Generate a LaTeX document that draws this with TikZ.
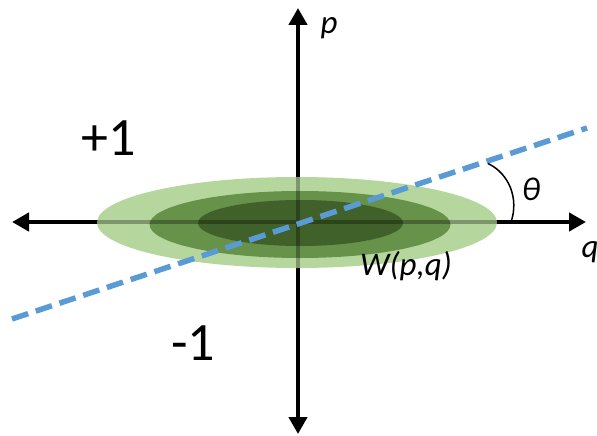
\documentclass[tikz,border=0pt]{standalone}
\usepackage{fontspec}
\setmainfont{Carlito}
\usetikzlibrary{arrows.meta}
\definecolor{gOuter}{RGB}{181,215,158}
\definecolor{gMid}{RGB}{103,146,73}
\definecolor{gIn}{RGB}{64,97,41}
\definecolor{dashblue}{RGB}{91,155,213}
\begin{document}
\begin{tikzpicture}[x=1pt,y=-1pt,
  axisline/.style={line width=4.5pt, {Triangle[length=17pt,width=18pt]}-{Triangle[length=17pt,width=18pt]}},
  bigsign/.style={font=\fontsize{54}{60}\selectfont, inner sep=0pt},
  varlabel/.style={font=\fontsize{33}{38}\selectfont\itshape, inner sep=0pt},
  cutline/.style={dashblue, line width=5.5pt, dash pattern=on 17pt off 8pt}]
\useasboundingbox (0,0) rectangle (597,436);
\coordinate (L) at (12,222);
\coordinate (R) at (586,222);
\coordinate (T) at (298,8);
\coordinate (B) at (298,434);
\draw[axisline] (L) -- (R);
\draw[axisline] (B) -- (T);
\fill[gOuter] (297,222.5) ellipse [x radius=200, y radius=45.5];
\fill[gMid] (300,224.5) ellipse [x radius=150.5, y radius=33.5];
\fill[gIn] (300.5,223) ellipse [x radius=102.5, y radius=23];
\begin{scope}
  \clip (297,222.5) ellipse [x radius=200, y radius=45.5];
  \draw[black, opacity=0.3, line width=4.5pt] (L) -- (R) (T) -- (B);
\end{scope}
\coordinate (D1) at (12,319);
\coordinate (D2) at (587,128);
\draw[cutline] (D1) -- (D2);
\coordinate (A1) at (511,222);
\coordinate (A2) at (488,163.5);
\draw[line width=1.5pt] (A1) .. controls (519,199) and (509.4,173.7) .. (A2);
\node[bigsign] (plus) at (109,138) {+1};
\node[bigsign] (minus) at (193,343) {-1};
\node[varlabel] (plab) at (329,28) {p};
\node[varlabel] (qlab) at (590,252) {q};
\node[varlabel] (theta) at (531,189) {θ};
\node[varlabel] (wlab) at (406,266) {W(p,q)};
\end{tikzpicture}
\end{document}
